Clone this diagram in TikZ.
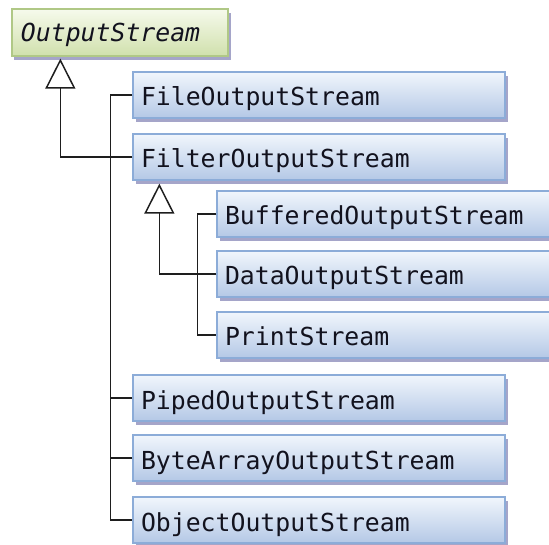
\documentclass[tikz,border=0pt]{standalone}
\usepackage{fontspec}
\usepackage{xcolor}
\usepackage{tikz}
\usetikzlibrary{arrows.meta, shadows}
\setmonofont{DejaVu Sans Mono}
\definecolor{blueTop}{RGB}{241,246,252}
\definecolor{blueBottom}{RGB}{180,200,230}
\definecolor{blueBorder}{RGB}{140,172,216}
\definecolor{greenTop}{RGB}{246,250,236}
\definecolor{greenBottom}{RGB}{208,224,172}
\definecolor{greenBorder}{RGB}{176,200,134}
\definecolor{lineGray}{RGB}{30,30,30}
\definecolor{textDark}{RGB}{18,18,30}
\newcommand{\classfont}{\ttfamily\fontsize{24.8}{30}\selectfont}
\tikzstyle{boxshadow} = [drop shadow={shadow xshift=2.5pt, shadow yshift=-4pt, fill=black!60!blue!70, opacity=0.5}]
\tikzstyle{baseclass} = [rectangle, draw=greenBorder, line width=1.3pt, top color=greenTop, bottom color=greenBottom, minimum width=216pt, minimum height=47pt, text width=198pt, inner xsep=9pt, text height=20pt, text depth=2pt, align=left, text=textDark, font=\classfont\itshape, boxshadow]
\tikzstyle{subclass} = [rectangle, draw=blueBorder, line width=1.3pt, top color=blueTop, bottom color=blueBottom, minimum width=372pt, minimum height=46pt, text width=356pt, inner xsep=8pt, text height=24pt, text depth=2pt, align=left, text=textDark, font=\classfont, boxshadow]
\tikzstyle{subclasswide} = [subclass, minimum width=380pt, text width=364pt]
\tikzstyle{branch} = [line width=1.5pt, draw=lineGray]
\tikzstyle{inherit} = [branch, -{Triangle[open, length=30pt, width=30pt]}]

\begin{document}
\begin{tikzpicture}[node distance=60pt]

		\useasboundingbox (-120pt,32.5pt) rectangle (429pt,-512.5pt);
		\clip (-120pt,32.5pt) rectangle (429pt,-512.5pt);

		\node (outStream) [baseclass] {OutputStream};
		\node (fileOut) [subclass, below of=outStream, xshift=199pt, yshift=-2.5pt] {FileOutputStream};
		\node (filterOut) [subclass, below of=fileOut, yshift=-2pt] {FilterOutputStream};
		\node (bufferedOut) [subclasswide, below of=filterOut, xshift=88pt, yshift=3pt] {BufferedOutputStream};
		\node (dataOut) [subclasswide, below of=bufferedOut] {DataOutputStream};
		\node (printStream) [subclasswide, below of=dataOut, yshift=-1pt] {PrintStream};
		\node (pipedOut) [subclass, below of=printStream, xshift=-88pt, yshift=-3pt] {PipedOutputStream};
		\node (byteArrayOut) [subclass, below of=pipedOut] {ByteArrayOutputStream};
		\node (objectOut) [subclass, below of=byteArrayOut, yshift=-2pt] {ObjectOutputStream};

		\coordinate (inherit1) at ([xshift=49pt, yshift=-2pt]outStream.south west);
		\coordinate (inherit2) at ([xshift=27pt, yshift=-3pt]filterOut.south west);
		\coordinate (trunk1) at ([xshift=-22pt]fileOut.west);
		\coordinate (trunk2) at ([xshift=-19pt]bufferedOut.west);

		\draw [inherit] (filterOut.west) -| (inherit1);
		\draw [branch] (fileOut.west) -- (trunk1) |- (objectOut.west);
		\draw [branch] (pipedOut.west) -- (pipedOut.west -| trunk1);
		\draw [branch] (byteArrayOut.west) -- (byteArrayOut.west -| trunk1);

		\draw [inherit] (dataOut.west) -| (inherit2);
		\draw [branch] (bufferedOut.west) -- (trunk2) |- (printStream.west);
	\end{tikzpicture}
\end{document}
